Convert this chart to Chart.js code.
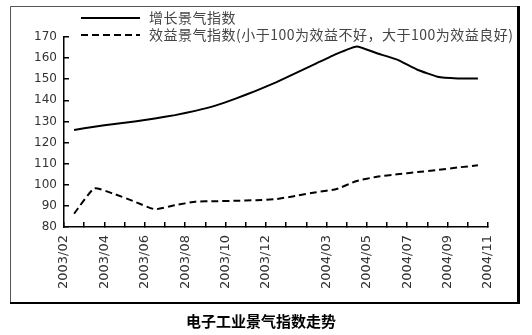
<!DOCTYPE html>
<html>
<head>
<meta charset="utf-8">
<script src="https://cdn.jsdelivr.net/npm/chart.js@4.4.1/dist/chart.umd.min.js"></script>
<style>
  body { margin: 0; background: #fff; }
</style>
</head>
<body>
<canvas id="myChart" width="532" height="335"></canvas>
<script>
// month ticks on the axis (2003/02 .. 2004/11)
const months = ['2003/02','2003/03','2003/04','2003/05','2003/06','2003/07','2003/08','2003/09','2003/10','2003/11','2003/12',
  '2004/01','2004/02','2004/03','2004/04','2004/05','2004/06','2004/07','2004/08','2004/09','2004/10','2004/11'];
const shownMonths = ['2003/02','2003/04','2003/06','2003/08','2003/10','2003/12','2004/03','2004/05','2004/07','2004/09','2004/11'];
// data periods (Jan+Feb 2004 reported together)
const periods = ['2003/02','2003/03','2003/04','2003/05','2003/06','2003/07','2003/08','2003/09','2003/10','2003/11','2003/12',
  '2004/01-02','2004/03','2004/04','2004/05','2004/06','2004/07','2004/08','2004/09','2004/10','2004/11'];
const growthIndex = [126, 127.5, 128.8, 130, 131.4, 133, 135, 137.5, 140.8, 144.5, 148.5,
  153, 157.5, 162, 165.5, 162.3, 159.3, 154.5, 151.2, 150.4, 150.3];
const profitIndex = [86.3, 98.3, 95.6, 92, 88.4, 90.3, 92, 92.2, 92.4, 92.7, 93.2,
  94.8, 96.5, 98, 101.8, 103.8, 105, 106, 107, 108.2, 109.2];
const yTicks = [80, 90, 100, 110, 120, 130, 140, 150, 160, 170];

const seriesNames = ['增长景气指数', '效益景气指数(小于100为效益不好，大于100为效益良好)'];
const chartTitle = '电子工业景气指数走势';

// frame, legend and caption drawn straight on the canvas
const decorPlugin = {
  id: 'decor',
  beforeDraw(chart) {
    const ctx = chart.ctx;
    ctx.save();
    ctx.fillStyle = '#fff';
    ctx.fillRect(0, 0, chart.width, chart.height);
    ctx.strokeStyle = '#555';
    ctx.lineWidth = 1;
    ctx.beginPath();
    ctx.moveTo(10.5, 303);
    ctx.lineTo(10.5, 6.5);
    ctx.lineTo(517, 6.5);
    ctx.stroke();
    ctx.fillStyle = '#000';
    ctx.fillRect(517, 6, 3, 298);
    ctx.fillRect(10, 302, 510, 2);
    ctx.restore();
  },
  afterDraw(chart) {
    const ctx = chart.ctx;
    ctx.save();
    const rows = [18, 35];
    chart.data.datasets.forEach((ds, i) => {
      ctx.strokeStyle = '#000';
      ctx.lineWidth = 2;
      ctx.setLineDash(ds.borderDash || []);
      ctx.beginPath();
      ctx.moveTo(81, rows[i]);
      ctx.lineTo(140, rows[i]);
      ctx.stroke();
      ctx.setLineDash([]);
      ctx.fillStyle = '#444';
      ctx.font = '14px "Noto Sans CJK SC"';
      ctx.letterSpacing = '0.5px';
      ctx.textBaseline = 'middle';
      ctx.textAlign = 'left';
      ctx.fillText(ds.label, 149, rows[i]);
    });
    ctx.letterSpacing = '0px';
    ctx.fillStyle = '#000';
    ctx.font = 'bold 15px "Noto Sans CJK SC"';
    ctx.textAlign = 'center';
    ctx.textBaseline = 'middle';
    ctx.fillText(chartTitle, 261, 321);
    ctx.restore();
  }
};

const ctx = document.getElementById('myChart').getContext('2d');
const chart = new Chart(ctx, {
  type: 'line',
  data: {
    labels: months,
    datasets: [{
      label: seriesNames[0],
      data: growthIndex,
      xAxisID: 'xd',
      borderColor: '#000',
      borderWidth: 2,
      pointRadius: 0,
      tension: 0.12,
      fill: false
    }, {
      label: seriesNames[1],
      data: profitIndex,
      xAxisID: 'xd',
      borderColor: '#000',
      borderWidth: 2,
      borderDash: [7, 4],
      pointRadius: 0,
      tension: 0.15,
      fill: false
    }]
  },
  options: {
    responsive: false,
    animation: false,
    layout: { padding: { left: 14, right: 44, top: 37, bottom: 38 } },
    plugins: {
      legend: { display: false },
      tooltip: { enabled: false }
    },
    scales: {
      x: {
        type: 'category',
        labels: months,
        offset: false,
        // negative tick length puts the tick marks inside the plot
        grid: { drawOnChartArea: false, tickLength: -5, color: '#000', lineWidth: 1.5 },
        border: { color: '#000', width: 1.5 },
        ticks: {
          autoSkip: false,
          minRotation: 90,
          maxRotation: 90,
          padding: 13,
          color: '#333',
          font: { family: '"DejaVu Sans"', size: 13 },
          callback: function (value) {
            const lab = this.getLabelForValue(value);
            return shownMonths.includes(lab) ? lab : '';
          }
        },
        afterFit: (scale) => { scale.height = 70; }
      },
      xd: {
        type: 'category',
        labels: periods,
        offset: true,
        display: false
      },
      y: {
        min: yTicks[0],
        max: yTicks[yTicks.length - 1],
        grid: { drawOnChartArea: false, tickLength: -5, color: '#000', lineWidth: 1.5 },
        border: { color: '#000', width: 1.5 },
        afterBuildTicks: (scale) => { scale.ticks = yTicks.map(v => ({ value: v })); },
        ticks: {
          padding: 12,
          color: '#333',
          font: { family: '"DejaVu Sans"', size: 12 }
        },
        afterFit: (scale) => { scale.width = 50; }
      }
    }
  },
  plugins: [decorPlugin]
});
</script>
</body>
</html>
